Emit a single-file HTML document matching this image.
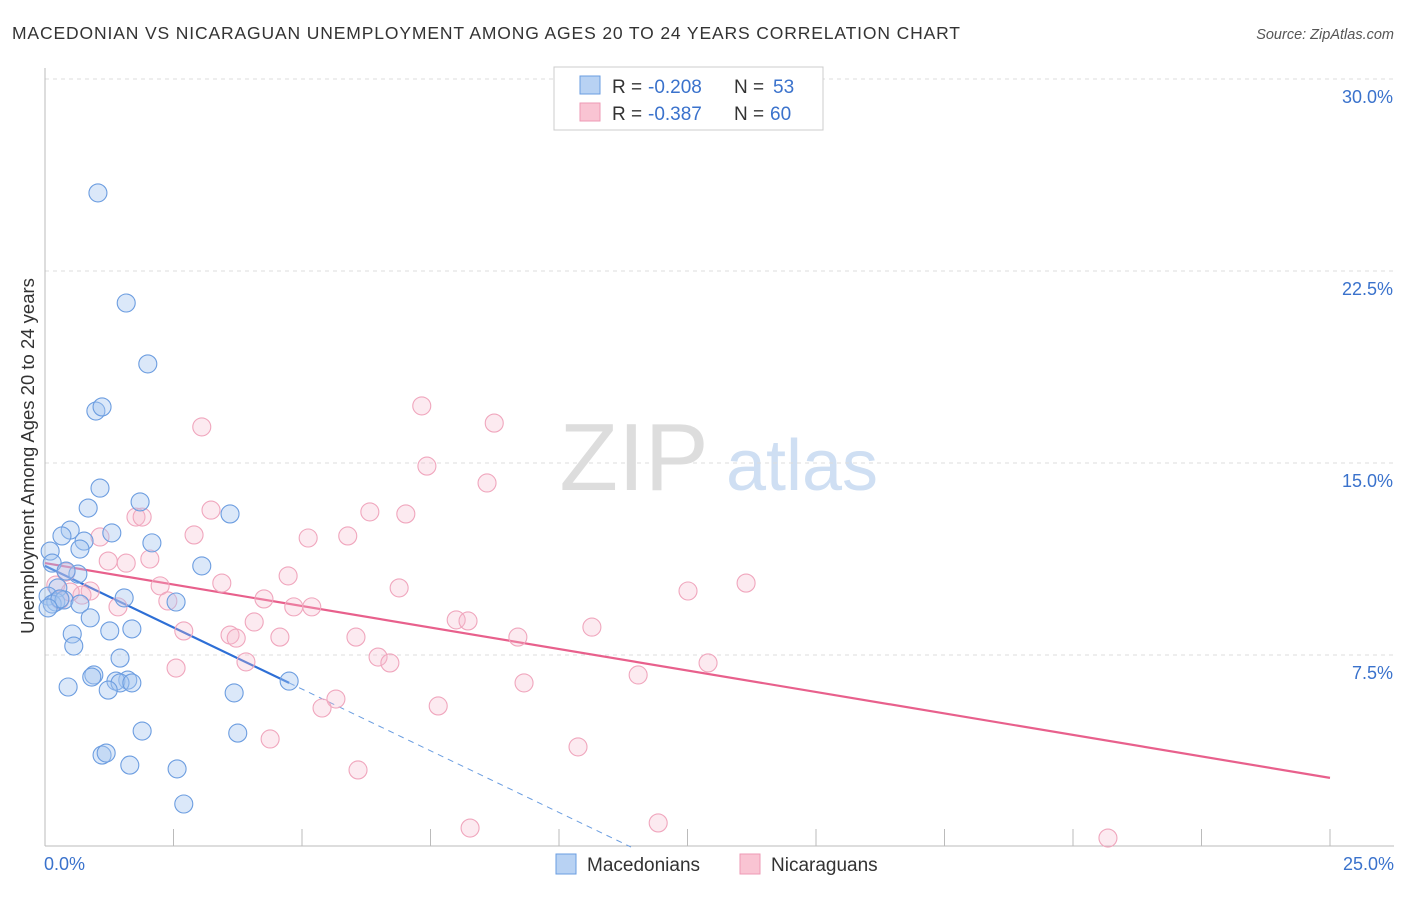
<!DOCTYPE html>
<html><head><meta charset="utf-8"><style>
body{margin:0;background:#fff;font-family:"Liberation Sans",sans-serif}
svg text{font-family:"Liberation Sans",sans-serif}
</style></head><body>
<svg id="chart" width="1406" height="892" xmlns="http://www.w3.org/2000/svg">
<text x="12" y="39" font-size="17.5" fill="#333" textLength="948" lengthAdjust="spacing">MACEDONIAN VS NICARAGUAN UNEMPLOYMENT AMONG AGES 20 TO 24 YEARS CORRELATION CHART</text>
<text x="1394" y="39" font-size="14.5" fill="#555" text-anchor="end" font-style="italic">Source: ZipAtlas.com</text>
<g>
<text x="634" y="490" font-size="96" fill="#ddd" text-anchor="middle" font-family="Liberation Serif">ZIP</text>
<text x="802" y="490" font-size="72" fill="#cfdff3" text-anchor="middle">atlas</text>
</g>
<g id="grid"></g>
<g id="axes"></g>
<g id="trend"></g>
<g id="pts"></g>
<text transform="translate(34,456) rotate(-90)" font-size="18.5" fill="#333" text-anchor="middle">Unemployment Among Ages 20 to 24 years</text>
<g>
<rect x="554" y="67" width="269" height="63" fill="#fff" stroke="#ccc"/>
<rect x="580" y="76" width="20" height="18" fill="#b8d2f3" stroke="#6a9de0"/>
<rect x="580" y="103" width="20" height="18" fill="#f9c4d3" stroke="#ee9ab4"/>
<text x="612" y="93" font-size="19" fill="#333">R =</text>
<text x="648" y="93" font-size="19" fill="#3a72cc">-0.208</text>
<text x="734" y="93" font-size="19" fill="#333">N =</text>
<text x="773" y="93" font-size="19" fill="#3a72cc">53</text>
<text x="612" y="120" font-size="19" fill="#333">R =</text>
<text x="648" y="120" font-size="19" fill="#3a72cc">-0.387</text>
<text x="734" y="120" font-size="19" fill="#333">N =</text>
<text x="770" y="120" font-size="19" fill="#3a72cc">60</text>
</g>
<g>
<rect x="556" y="854" width="20" height="20" fill="#b8d2f3" stroke="#6a9de0"/>
<text x="587" y="871" font-size="19" fill="#333">Macedonians</text>
<rect x="740" y="854" width="20" height="20" fill="#f9c4d3" stroke="#ee9ab4"/>
<text x="771" y="871" font-size="19" fill="#333">Nicaraguans</text>
</g>
</svg>
<script>
const yTicks=[7.5,15,22.5,30];
const yTickLabels=["7.5%","15.0%","22.5%","30.0%"];
const xTickLabels=["0.0%","25.0%"];
const blueX=[1.03,1.58,2.00,0.99,1.11,1.07,1.85,0.84,3.60,0.49,0.33,1.30,2.08,0.76,0.68,0.10,3.05,0.14,0.64,0.41,0.25,0.06,0.21,0.14,0.37,0.68,2.55,1.54,0.88,1.26,1.69,0.53,0.56,1.46,0.95,0.91,1.61,1.38,1.46,1.69,4.75,0.45,1.23,3.68,1.89,3.75,1.11,1.19,1.65,2.57,2.70,0.29,0.06];
const blueY=[25.55,21.25,18.87,17.03,17.19,14.02,13.48,13.24,13.01,12.38,12.15,12.27,11.88,11.95,11.64,11.56,10.98,11.09,10.66,10.78,10.12,9.80,9.57,9.49,9.65,9.49,9.57,9.73,8.95,8.44,8.52,8.32,7.85,7.38,6.72,6.64,6.52,6.48,6.41,6.41,6.48,6.25,6.13,6.02,4.53,4.45,3.59,3.67,3.20,3.05,1.68,9.69,9.34];
const redX=[7.33,8.74,3.05,7.43,8.60,3.23,6.32,7.02,1.77,1.89,2.90,5.12,5.89,1.07,1.23,1.58,2.04,0.41,4.73,3.44,2.24,13.64,6.89,12.51,0.88,0.72,2.39,4.26,4.84,5.19,1.42,8.00,8.23,10.64,2.70,3.60,3.72,4.57,4.07,6.05,9.20,3.91,6.48,6.71,12.90,2.55,11.54,9.32,5.66,5.39,7.65,4.38,10.37,6.09,8.27,11.93,20.68,0.21,0.29,0.49];
const redY=[17.23,16.56,16.41,14.88,14.22,13.16,13.09,13.01,12.89,12.89,12.19,12.07,12.15,12.11,11.17,11.09,11.25,10.74,10.59,10.31,10.20,10.31,10.12,10.00,10.00,9.84,9.61,9.69,9.38,9.38,9.38,8.87,8.83,8.59,8.44,8.28,8.16,8.20,8.79,8.20,8.20,7.23,7.42,7.19,7.19,6.99,6.72,6.41,5.78,5.43,5.51,4.22,3.91,3.01,0.74,0.94,0.35,10.23,9.65,9.96];
const blueTrend=[[0,10.98],[4.75,6.41]];
const blueDash=[[4.75,6.41],[11.4,0]];
const redTrend=[[0,11.09],[25,2.70]];
const NS="http://www.w3.org/2000/svg";
const X=v=>45+v*51.4, Y=v=>847-v*25.6;
function mk(tag,attrs,parent){const e=document.createElementNS(NS,tag);for(const k in attrs)e.setAttribute(k,attrs[k]);parent.appendChild(e);return e;}
const grid=document.getElementById('grid'),axes=document.getElementById('axes'),trend=document.getElementById('trend'),pts=document.getElementById('pts');
yTicks.forEach((t,i)=>{
 const l=mk('line',{x1:45,x2:1394,y1:Y(t),y2:Y(t),stroke:'#ddd','stroke-dasharray':'4,4'},grid);
 
 
 const tx=mk('text',{x:1393,y:Y(t)+24,'font-size':18,fill:'#3a72cc','text-anchor':'end'},axes);
 tx.textContent=yTickLabels[i];
 
 
});
mk('line',{x1:45,x2:45,y1:68,y2:846,stroke:'#bbb'},axes);
mk('line',{x1:45,x2:1394,y1:846,y2:846,stroke:'#bbb'},axes);
for(let i=0;i<=10;i++){const tk=mk('line',{x1:X(i*2.5),x2:X(i*2.5),y1:829,y2:846,stroke:'#bbb'},axes);}
const x0=mk('text',{x:44,y:870,'font-size':18,fill:'#3a72cc'},axes);x0.textContent=xTickLabels[0];


const x1=mk('text',{x:1394,y:870,'font-size':18,fill:'#3a72cc','text-anchor':'end'},axes);x1.textContent=xTickLabels[1];


function line(p,attrs,name){const l=mk('line',Object.assign({x1:X(p[0][0]),y1:Y(p[0][1]),x2:X(p[1][0]),y2:Y(p[1][1])},attrs),trend);}
redX.forEach((v,i)=>{const c=mk('circle',{cx:X(v),cy:Y(redY[i]),r:9,fill:'rgba(246,185,205,0.3)',stroke:'#f0a6bd','stroke-width':1.1},pts);
 
 });
blueX.forEach((v,i)=>{const c=mk('circle',{cx:X(v),cy:Y(blueY[i]),r:9,fill:'rgba(165,198,240,0.4)',stroke:'#6c9de0','stroke-width':1.1},pts);
 
 });
line(redTrend,{stroke:'#e8608c','stroke-width':2.2},'nicaraguan-trend-line');
line(blueTrend,{stroke:'#2e6fd6','stroke-width':2.2},'macedonian-trend-line');
line(blueDash,{stroke:'#6a9de0','stroke-width':1,'stroke-dasharray':'6,5'},'macedonian-trend-extension');
</script>
</body></html>
